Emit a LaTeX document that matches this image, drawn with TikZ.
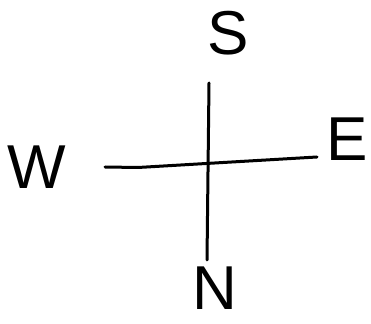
\documentclass[tikz,border=0pt]{standalone}
\usepackage{fontspec}
\setmainfont{Liberation Sans}
\begin{document}
\begin{tikzpicture}[x=1pt,y=1pt,
  letter/.style={inner sep=0pt, font=\fontsize{62}{62}\selectfont},
  stroke/.style={line width=3pt, line cap=round, line join=round}]
\useasboundingbox (0,0) rectangle (371,323);
\node[letter] (S) at (228,290) {S};
\node[letter] (W) at (37,156) {W};
\node[letter] (E) at (347,184) {E};
\node[letter] (N) at (215,35) {N};
\coordinate (top) at (209,240);
\coordinate (bottom) at (207,63);
\coordinate (left) at (105,156);
\coordinate (right) at (317,166);
\draw[stroke] (top) -- (bottom);
\draw[stroke] (left) -- (138,155.5) -- (right);
\end{tikzpicture}
\end{document}
